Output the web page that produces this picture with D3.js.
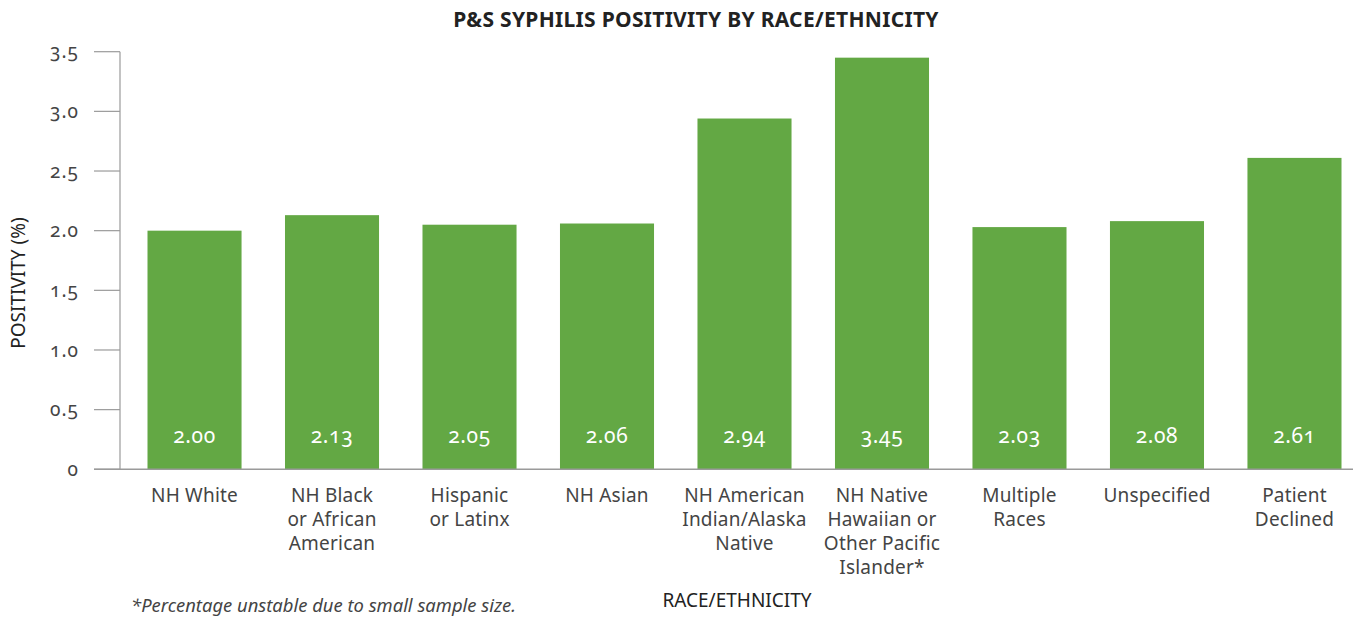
<!DOCTYPE html>
<html>
<head>
<meta charset="utf-8">
<script src="https://d3js.org/d3.v7.min.js"></script>
<style>
  body { margin: 0; background: #fff; }
  text { font-family: "Noto Sans", "Open Sans", sans-serif; }
  .num { font-variant-numeric: oldstyle-nums; }
</style>
</head>
<body>
<div id="chart"></div>
<script>
// chart data
var categories = ["NH White", "NH Black or African American", "Hispanic or Latinx", "NH Asian",
    "NH American Indian/Alaska Native", "NH Native Hawaiian or Other Pacific Islander*",
    "Multiple Races", "Unspecified", "Patient Declined"];
var labelLines = [
    ["NH White"],
    ["NH Black", "or African", "American"],
    ["Hispanic", "or Latinx"],
    ["NH Asian"],
    ["NH American", "Indian/Alaska", "Native"],
    ["NH Native", "Hawaiian or", "Other Pacific", "Islander*"],
    ["Multiple", "Races"],
    ["Unspecified"],
    ["Patient", "Declined"]];
var positivity = [2.00, 2.13, 2.05, 2.06, 2.94, 3.45, 2.03, 2.08, 2.61];
var yTicks = [0, 0.5, 1.0, 1.5, 2.0, 2.5, 3.0, 3.5];
var yTickLabels = ["0", "0.5", "1.0", "1.5", "2.0", "2.5", "3.0", "3.5"];

var width = 1353, height = 618;
var green = "#63a844", axisGrey = "#9a9a9a", textGrey = "#444";

var svg = d3.select("#chart")
    .append("svg")
    .attr("width", width)
    .attr("height", height);

// scales
var x = d3.scaleBand()
    .domain(categories)
    .range([120, 1369])
    .paddingInner(0.316)
    .paddingOuter(0.2);

var y = d3.scaleLinear()
    .domain([0, 3.5])
    .range([469.3, 51.7]);

// title
svg.append("text")
    .attr("x", 696)
    .attr("y", 27)
    .attr("text-anchor", "middle")
    .style("font-size", "21px")
    .style("font-weight", "bold")
    .style("letter-spacing", "0.3px")
    .style("fill", "#222")
    .text("P&S SYPHILIS POSITIVITY BY RACE/ETHNICITY");

// y axis: vertical line + ticks
svg.append("line")
    .attr("x1", 120).attr("x2", 120)
    .attr("y1", y(3.5)).attr("y2", y(0))
    .attr("stroke", axisGrey).attr("stroke-width", 1.2);

svg.selectAll(".ytick")
    .data(yTicks)
    .join("line")
    .attr("class", "ytick")
    .attr("x1", 94).attr("x2", 120)
    .attr("y1", d => y(d)).attr("y2", d => y(d))
    .attr("stroke", axisGrey).attr("stroke-width", 1.2);

svg.selectAll(".ylab")
    .data(yTicks)
    .join("text")
    .attr("class", "ylab num")
    .attr("x", 79)
    .attr("y", d => y(d))
    .attr("dy", "0.35em")
    .attr("text-anchor", "end")
    .style("font-size", "19px")
    .style("letter-spacing", "1px")
    .style("fill", textGrey)
    .text((d, i) => yTickLabels[i]);

// bars
svg.selectAll(".bar")
    .data(positivity)
    .join("rect")
    .attr("class", "bar")
    .attr("x", (d, i) => x(categories[i]))
    .attr("y", d => y(d))
    .attr("width", x.bandwidth())
    .attr("height", d => y(0) - y(d))
    .attr("fill", green);

// value labels inside bars
svg.selectAll(".val")
    .data(positivity)
    .join("text")
    .attr("class", "val num")
    .attr("x", (d, i) => x(categories[i]) + x.bandwidth() / 2)
    .attr("y", 443)
    .attr("text-anchor", "middle")
    .style("font-size", "21px")
    .style("letter-spacing", "0.6px")
    .style("fill", "#fff")
    .text(d => d.toFixed(2));

// x axis baseline
svg.append("line")
    .attr("x1", 94).attr("x2", width)
    .attr("y1", y(0)).attr("y2", y(0))
    .attr("stroke", axisGrey).attr("stroke-width", 1.5);

// category labels, one text per line so the lines stay separate
labelLines.forEach(function (lines, i) {
    svg.selectAll(".cat" + i)
        .data(lines)
        .join("text")
        .attr("class", "cat cat" + i)
        .attr("x", x(categories[i]) + x.bandwidth() / 2)
        .attr("y", (d, j) => 502 + j * 24)
        .attr("text-anchor", "middle")
        .style("font-size", "19px")
        .style("letter-spacing", "0.2px")
        .style("fill", textGrey)
        .text(d => d);
});

// axis titles
svg.append("text")
    .attr("transform", "translate(25,283) rotate(-90)")
    .attr("text-anchor", "middle")
    .style("font-size", "19px")
    .style("fill", "#222")
    .text("POSITIVITY (%)");

svg.append("text")
    .attr("x", 737)
    .attr("y", 607)
    .attr("text-anchor", "middle")
    .style("font-size", "19px")
    .style("fill", "#222")
    .text("RACE/ETHNICITY");

// footnote
svg.append("text")
    .attr("x", 131)
    .attr("y", 612)
    .style("font-size", "18.4px")
    .style("font-style", "italic")
    .style("fill", textGrey)
    .text("*Percentage unstable due to small sample size.");
</script>
</body>
</html>
